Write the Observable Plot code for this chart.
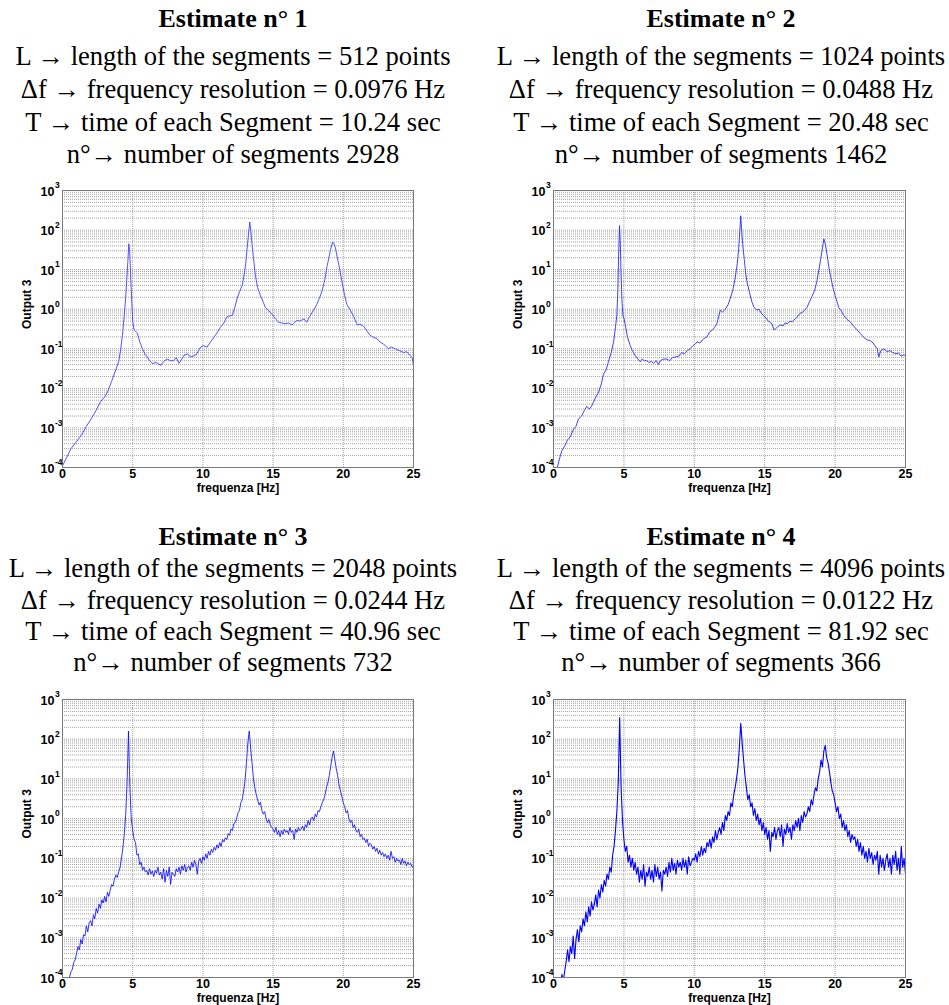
<!DOCTYPE html>
<html><head><meta charset="utf-8">
<script src="https://cdn.jsdelivr.net/npm/d3@7"></script>
<script src="https://cdn.jsdelivr.net/npm/@observablehq/plot@0.6"></script>
<style>
body{margin:0;background:#fff;}
#page{position:relative;width:949px;height:1005px;overflow:hidden;background:#fff;}
#page > svg, #page > div{position:absolute;}
</style></head><body><div id="page"></div>
<script>
// ---- header texts ----
const titles = ["Estimate n° 1", "Estimate n° 2", "Estimate n° 3", "Estimate n° 4"];
const segLength = [512, 1024, 2048, 4096];
const freqRes = ["0.0976", "0.0488", "0.0244", "0.0122"];
const segTime = ["10.24", "20.48", "40.96", "81.92"];
const segCount = [2928, 1462, 732, 366];
const xTicks = [0, 5, 10, 15, 20, 25];
const yExps = [-4, -3, -2, -1, 0, 1, 2, 3];
const xLabel = "frequenza [Hz]";
const yLabel = "Output 3";

// ---- Estimate 1: [frequency Hz, Output 3] ----
const est1 = [[0,1.1e-4],[0.3,1.8e-4],[0.6,3e-4],[1.0,4.5e-4],[1.4,7e-4],[1.7,1.1e-3],[2.0,1.6e-3],[2.4,2.8e-3],[2.7,4.6e-3],[3.0,6e-3],[3.2,8e-3],[3.5,1.5e-2],[3.8,3e-2],[4.0,4.7e-2],[4.15,0.1],[4.27,0.22],[4.4,0.7],[4.5,2],[4.57,5],[4.65,15],[4.72,45],[4.78,30],[4.85,8],[4.92,2],[5.0,0.5],[5.1,0.3],[5.33,0.25],[5.5,0.15],[5.7,0.1],[5.9,0.07],[6.04,0.062],[6.2,0.05],[6.4,0.043],[6.7,0.045],[7.0,0.038],[7.2,0.048],[7.46,0.055],[7.7,0.05],[7.9,0.05],[8.1,0.06],[8.3,0.043],[8.5,0.055],[8.65,0.068],[8.9,0.075],[9.1,0.062],[9.3,0.065],[9.5,0.07],[9.7,0.09],[9.83,0.11],[10.05,0.12],[10.3,0.11],[10.55,0.15],[10.8,0.2],[11.0,0.25],[11.25,0.35],[11.5,0.45],[11.7,0.63],[11.9,0.68],[12.1,0.7],[12.3,1.2],[12.44,1.9],[12.6,2.7],[12.8,4],[12.95,8],[13.05,14],[13.15,35],[13.25,80],[13.34,160],[13.42,90],[13.5,45],[13.6,20],[13.74,7],[13.9,3.5],[14.1,2.2],[14.3,1.5],[14.45,1.1],[14.7,0.9],[14.93,0.75],[15.2,0.55],[15.4,0.47],[15.6,0.45],[15.9,0.43],[16.1,0.45],[16.35,0.4],[16.5,0.45],[16.7,0.53],[16.9,0.5],[17.2,0.57],[17.4,0.47],[17.6,0.65],[17.8,0.85],[18.0,1.1],[18.1,1.3],[18.3,1.9],[18.5,3],[18.7,6],[18.84,12],[19.0,22],[19.1,33],[19.24,50],[19.33,45],[19.43,37],[19.55,22],[19.67,14],[19.8,8],[19.9,5],[20.1,2.2],[20.26,1.3],[20.5,0.95],[20.7,0.7],[21.0,0.4],[21.2,0.42],[21.45,0.37],[21.7,0.28],[21.9,0.22],[22.1,0.2],[22.4,0.18],[22.6,0.15],[22.87,0.13],[23.0,0.12],[23.2,0.1],[23.45,0.11],[23.7,0.1],[24.0,0.09],[24.3,0.08],[24.5,0.085],[24.76,0.068],[24.9,0.06],[25,0.038]];

// ---- Estimate 2 ----
const est2 = [[0,5e-5],[0.3,1.1e-4],[0.45,1.8e-4],[0.6,2.7e-4],[0.8,3.5e-4],[1.0,5e-4],[1.2,6e-4],[1.4,9e-4],[1.6,1.1e-3],[1.78,1.7e-3],[2.0,2e-3],[2.2,2.8e-3],[2.37,3.5e-3],[2.55,3e-3],[2.7,3.5e-3],[2.95,5.5e-3],[3.2,8e-3],[3.4,1.3e-2],[3.55,2.3e-2],[3.75,3e-2],[3.9,4.7e-2],[4.1,0.08],[4.27,0.15],[4.4,0.35],[4.5,0.7],[4.57,3],[4.62,20],[4.69,130],[4.75,40],[4.8,7],[4.87,1.5],[4.93,0.7],[5.0,0.6],[5.1,0.4],[5.25,0.2],[5.45,0.12],[5.6,0.09],[5.8,0.068],[6.0,0.055],[6.16,0.047],[6.3,0.055],[6.45,0.05],[6.6,0.05],[6.8,0.045],[6.95,0.048],[7.1,0.043],[7.3,0.05],[7.45,0.04],[7.6,0.05],[7.8,0.055],[8.05,0.055],[8.25,0.05],[8.45,0.06],[8.65,0.062],[8.9,0.065],[9.1,0.08],[9.3,0.075],[9.5,0.09],[9.7,0.1],[9.9,0.12],[10.05,0.13],[10.2,0.15],[10.4,0.14],[10.66,0.18],[10.9,0.2],[11.1,0.27],[11.3,0.3],[11.45,0.35],[11.6,0.43],[11.75,0.7],[11.85,0.95],[12.0,0.85],[12.2,1],[12.4,1.3],[12.56,1.9],[12.75,3.2],[12.9,6],[13.05,14],[13.15,33],[13.23,90],[13.3,230],[13.38,80],[13.45,40],[13.55,18],[13.65,8],[13.74,5],[13.9,2.8],[14.1,1.5],[14.25,1.1],[14.45,0.95],[14.6,1.0],[14.75,0.8],[14.9,0.7],[15.1,0.6],[15.25,0.5],[15.4,0.47],[15.55,0.4],[15.65,0.3],[15.76,0.32],[15.9,0.35],[16.1,0.4],[16.3,0.38],[16.45,0.45],[16.6,0.43],[16.8,0.5],[16.95,0.48],[17.06,0.53],[17.25,0.6],[17.5,0.78],[17.7,0.85],[17.85,0.95],[18.0,1.1],[18.2,1.6],[18.36,2.1],[18.55,3],[18.7,5],[18.85,10],[18.96,17],[19.1,35],[19.2,60],[19.3,45],[19.43,24],[19.55,12],[19.67,7],[19.85,3.5],[20.0,2.2],[20.15,1.5],[20.26,1.1],[20.45,0.9],[20.6,0.7],[20.85,0.55],[21.1,0.47],[21.3,0.38],[21.56,0.3],[21.8,0.24],[22.0,0.2],[22.25,0.17],[22.5,0.16],[22.7,0.14],[22.9,0.11],[23.0,0.1],[23.1,0.062],[23.25,0.09],[23.46,0.1],[23.7,0.085],[23.9,0.09],[24.1,0.08],[24.3,0.075],[24.5,0.078],[24.7,0.065],[24.85,0.07],[25,0.068]];

// ---- Estimate 3: Output 3 read every 0.1 Hz from 0 to 25 Hz ----
const est3Step = 0.1;
const est3 = [
2.5e-5,3e-5,4e-5,5e-5,7e-5,1e-4,1.4e-4,1.6e-4,2.4e-4,2.8e-4,
4e-4,6e-4,5e-4,9e-4,7e-4,1.2e-3,1.1e-3,2e-3,1.4e-3,2.4e-3,
2.7e-3,2e-3,3.8e-3,3e-3,5.5e-3,4.2e-3,7e-3,5.5e-3,9e-3,7.5e-3,
1.1e-2,8e-3,1.4e-2,1.1e-2,1.6e-2,2.2e-2,2e-2,3e-2,3.8e-2,3.3e-2,
0.045,0.06,0.1,0.18,0.4,1.2,8,160,6,1.0,
0.5,0.3,0.25,0.12,0.13,0.07,0.08,0.05,0.06,0.045,
0.05,0.038,0.055,0.04,0.048,0.035,0.05,0.042,0.06,0.038,
0.045,0.03,0.055,0.025,0.05,0.035,0.06,0.022,0.045,0.04,
0.035,0.055,0.045,0.06,0.04,0.065,0.05,0.07,0.045,0.06,
0.065,0.05,0.08,0.06,0.09,0.07,0.04,0.085,0.1,0.075,
0.11,0.09,0.13,0.1,0.15,0.12,0.17,0.14,0.19,0.16,
0.22,0.18,0.25,0.2,0.3,0.26,0.33,0.3,0.42,0.38,
0.55,0.5,0.75,0.8,1.0,1.4,1.6,2.5,3,5,
9,25,80,160,60,25,10,6,4,3,
2.2,2.6,1.6,1.3,1.5,1.0,0.8,0.95,0.7,0.6,
0.55,0.45,0.6,0.4,0.5,0.35,0.5,0.4,0.55,0.45,
0.5,0.4,0.6,0.45,0.5,0.3,0.55,0.45,0.6,0.5,
0.55,0.65,0.5,0.7,0.6,0.9,0.7,1.0,1.1,0.9,
1.3,1.1,1.6,1.5,2.0,2.5,3,4,6,8,
12,20,35,50,30,18,12,7,5,3.5,
2.5,2.0,1.4,1.6,1.0,0.8,0.9,0.6,0.7,0.5,
0.45,0.55,0.35,0.4,0.3,0.32,0.25,0.3,0.2,0.24,
0.22,0.17,0.2,0.15,0.18,0.13,0.16,0.12,0.14,0.11,
0.13,0.1,0.12,0.09,0.15,0.1,0.11,0.08,0.1,0.085,
0.09,0.07,0.1,0.075,0.085,0.065,0.08,0.07,0.075,0.06,
0.065];

// ---- Estimate 4: Output 3 read every 0.1 Hz from 0 to 25 Hz ----
const est4Step = 0.1;
const est4 = [
1e-5,2e-5,3e-5,4e-5,5e-5,6e-5,1.2e-4,8e-5,1.5e-4,2.5e-4,
5e-4,2.5e-4,6e-4,4e-4,1.1e-3,3e-4,9e-4,1.6e-3,8e-4,2e-3,
1.4e-3,3e-3,2e-3,4.5e-3,2.5e-3,6e-3,3.5e-3,8e-3,5e-3,7e-3,
1.2e-2,6e-3,1.6e-2,1e-2,2.2e-2,1.4e-2,2.8e-2,2e-2,4e-2,3e-2,
0.06,0.045,0.12,0.2,0.5,1.5,8,350,6,0.9,
0.3,0.15,0.2,0.08,0.12,0.06,0.1,0.05,0.08,0.04,
0.06,0.025,0.05,0.03,0.07,0.02,0.045,0.035,0.06,0.03,
0.05,0.025,0.07,0.035,0.06,0.03,0.045,0.015,0.05,0.04,
0.06,0.035,0.08,0.045,0.1,0.05,0.075,0.04,0.09,0.06,
0.08,0.05,0.1,0.06,0.09,0.04,0.11,0.065,0.08,0.1,
0.09,0.13,0.08,0.15,0.11,0.2,0.12,0.18,0.14,0.25,
0.2,0.3,0.18,0.35,0.25,0.5,0.3,0.45,0.6,0.4,
0.8,0.5,1.2,0.9,1.5,1.2,2.5,2,4,6,
10,20,60,250,80,30,12,6,3,4,
2,2.5,1.2,1.8,0.9,1.3,0.7,1.0,0.5,0.8,
0.4,0.6,0.3,0.5,0.15,0.45,0.35,0.6,0.3,0.5,
0.6,0.35,0.7,0.2,0.55,0.4,0.75,0.45,0.6,0.3,
0.7,0.5,0.9,0.6,1.0,0.5,1.2,0.8,1.5,1.1,
1.3,2,1.5,3,2.2,4,6,5,10,15,
30,20,50,70,35,25,15,8,5,4,
2.5,1.5,2,1,1.3,0.6,0.9,0.5,0.7,0.35,
0.5,0.25,0.4,0.3,0.35,0.2,0.3,0.15,0.25,0.12,
0.2,0.1,0.15,0.08,0.18,0.1,0.14,0.07,0.12,0.09,
0.15,0.04,0.12,0.06,0.1,0.05,0.09,0.13,0.06,0.1,
0.04,0.12,0.07,0.15,0.05,0.1,0.04,0.2,0.06,0.1,
0.04];

// ---- build tables ----
const pairs = a => a.map(([f, v]) => ({f, v}));
const binned = (vals, step) => vals.map((v, i) => ({f: +(i * step).toFixed(2), v}));
const series = [pairs(est1), pairs(est2), binned(est3, est3Step), binned(est4, est4Step)];

// minor log grid positions (1..9 per decade)
const gridY = [];
for (let k = -4; k < 3; k++) for (let m = 1; m < 10; m++) gridY.push(m * Math.pow(10, k));
gridY.push(1000);

const page = document.getElementById("page");

// ---- headers ----
const hdrCx = [233, 721, 233, 721];
const hdrBase = [[27, 65, 98, 131, 163], [27, 65, 98, 131, 163], [545, 577, 609, 640, 671], [545, 577, 609, 640, 671]];
const serif = "'Liberation Serif', 'Times New Roman', Times, serif";
const hsvg = d3.select(page).append("svg").attr("width", 949).attr("height", 1005).style("left", "0px").style("top", "0px");
for (let i = 0; i < 4; i++) {
  const lines = [
    `L \u2192 length of the segments = ${segLength[i]} points`,
    `\u0394f \u2192 frequency resolution = ${freqRes[i]} Hz`,
    `T \u2192 time of each Segment = ${segTime[i]} sec`,
    `n\u00b0\u2192 number of segments ${segCount[i]}`
  ];
  hsvg.append("text").attr("x", hdrCx[i]).attr("y", hdrBase[i][0]).attr("text-anchor", "middle")
    .style("font-family", serif).attr("font-weight", "bold").attr("font-size", 26).text(titles[i]);
  lines.forEach((t, j) => {
    hsvg.append("text").attr("x", hdrCx[i]).attr("y", hdrBase[i][j + 1]).attr("text-anchor", "middle")
      .style("font-family", serif).attr("font-size", 26.6).text(t);
  });
}

// ---- plots ----
const geo = [
  {left: 0, top: 175, width: 474, height: 330, ml: 62, mr: 61, mt: 15, mb: 38},
  {left: 490, top: 175, width: 459, height: 330, ml: 63, mr: 44, mt: 15, mb: 38},
  {left: 0, top: 680, width: 474, height: 325, ml: 62, mr: 61, mt: 19, mb: 28},
  {left: 490, top: 680, width: 459, height: 325, ml: 63, mr: 44, mt: 19, mb: 28}
];
const lineColor = ["#4040ff", "#2a2aff", "#0000ff", "#0000ff"];
const lineWidth = [0.9, 0.9, 0.8, 1.1];

for (let i = 0; i < 4; i++) {
  const g = geo[i];
  const chart = Plot.plot({
    width: g.width, height: g.height,
    marginLeft: g.ml, marginRight: g.mr, marginTop: g.mt, marginBottom: g.mb,
    x: {domain: [0, 25], axis: null},
    y: {type: "log", domain: [1e-4, 1e3], axis: null},
    style: {fontFamily: "'Liberation Sans', Arial, sans-serif", fontSize: "12px", color: "#000", background: "transparent", overflow: "visible"},
    marks: [
      Plot.ruleY(gridY, {y: d => d, stroke: "#8a8a8a", strokeWidth: 0.8, strokeDasharray: "1,1"}),
      Plot.ruleX(xTicks.slice(1, -1), {x: d => d, stroke: "#8a8a8a", strokeWidth: 0.8, strokeDasharray: "1,1"}),
      Plot.line(series[i], {x: "f", y: "v", stroke: lineColor[i], strokeWidth: lineWidth[i], clip: true}),
      Plot.frame({stroke: "#7a7a7a", strokeWidth: 1}),
      Plot.text(xTicks, {x: d => d, frameAnchor: "bottom", dy: 10, text: d => String(d), fontWeight: "bold", fontSize: 12.5}),
      Plot.text([xLabel], {frameAnchor: "bottom", dy: 24, text: d => d, fontWeight: "bold", fontSize: 12}),
      Plot.text(yExps, {y: e => Math.pow(10, e), frameAnchor: "left", dx: -8, dy: 1, text: () => "10", textAnchor: "end", fontWeight: "bold", fontSize: 12.5}),
      Plot.text(yExps, {y: e => Math.pow(10, e), frameAnchor: "left", dx: -7.5, dy: -5, text: e => String(e), textAnchor: "start", fontWeight: "bold", fontSize: 8.5}),
      Plot.text([yLabel], {frameAnchor: "left", dx: -35, rotate: -90, text: d => d, fontWeight: "bold", fontSize: 12})
    ]
  });
  chart.style.left = g.left + "px";
  chart.style.top = g.top + "px";
  chart.style.position = "absolute";
  page.appendChild(chart);
}
</script></body></html>
